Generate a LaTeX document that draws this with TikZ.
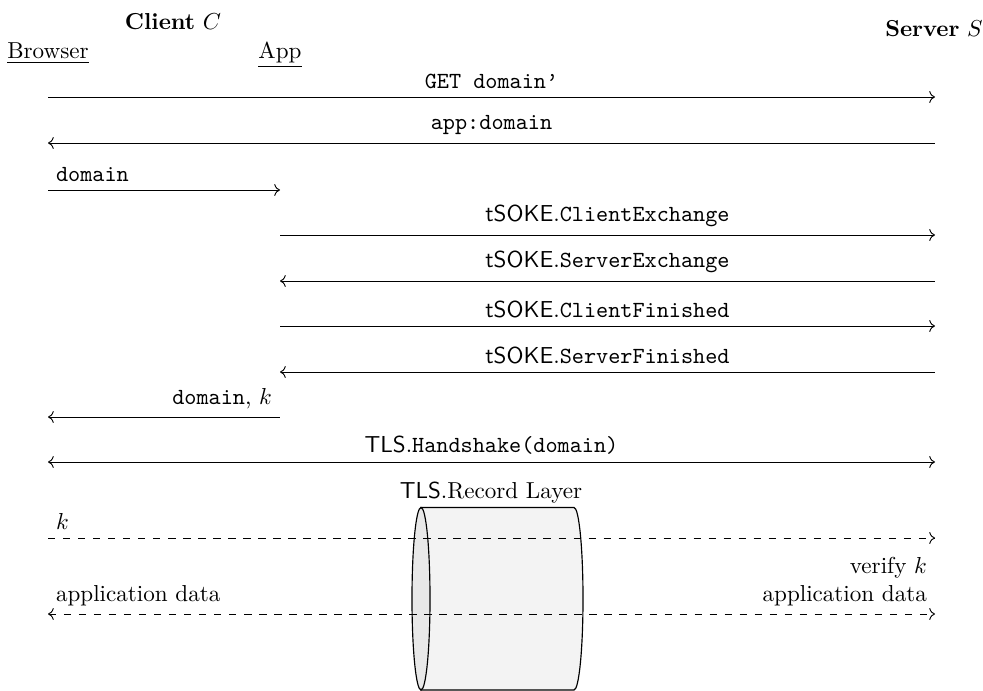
\documentclass[tikz,border=0pt]{standalone}
\usepackage{amsmath,amssymb}
\usepackage{xcolor}
\usepackage{tikz}
\usetikzlibrary{calc,arrows.meta}
\definecolor{ink}{HTML}{000000}
\definecolor{tubebody}{HTML}{F3F3F3}
\definecolor{tubeend}{HTML}{E8E8E8}
\tikzset{
  msg/.style={draw=ink, line width=0.4pt},
  sec/.style={draw=ink, line width=0.4pt, dash pattern=on 3.2pt off 3.3pt},
  lab/.style={text=ink, inner sep=3.3pt},
  head/.style={text=ink, anchor=base, inner sep=0pt},
  tube/.style={draw=ink, fill=tubebody, line width=0.5pt},
  tubecap/.style={draw=ink, fill=tubeend, line width=0.5pt},
}
\newcommand{\sok}{\textsf{tSOKE}}
\newcommand{\tls}{\textsf{TLS}}

\begin{document}
\begin{tikzpicture}[x=0.4329pt, y=-0.4329pt]
  \useasboundingbox (0,0) rectangle (983,691);
  \def\xb{48} \def\xa{280} \def\xs{935}
  % lifeline points for each message row
  \foreach \n/\y in {1/97,2/143,3/190,4/235,5/281,6/326,7/372,8/417,9/462,10/538,11/614} {
    \coordinate (b\n) at (\xb,\y);
    \coordinate (a\n) at (\xa,\y);
    \coordinate (s\n) at (\xs,\y);
  }
  % parties
  \node[head] (client) at (173,30) {\textbf{Client} $C$};
  \node[head] (browser) at (\xb,59) {\underline{Browser}};
  \node[head] (app) at (\xa,59) {\underline{App}};
  \node[head] (server) at (934,37) {\textbf{Server} $S$};
  % record layer tube
  \filldraw[tube] (421,507.5) -- (574,507.5) arc[start angle=90, end angle=-90, x radius=3.9pt, y radius=39.5pt] -- (421,690) -- cycle;
  \filldraw[tubecap] (421,598.75) ellipse[x radius=3.9pt, y radius=39.5pt];
  \node[lab, anchor=base] (record) at (491,498) {\tls.Record Layer};
  % messages
  \draw[msg, ->] (b1) -- (s1) node[lab, midway, above] (m1) {\texttt{GET domain\textquoteright}};
  \draw[msg, <-] (b2) -- (s2) node[lab, midway, above] (m2) {\texttt{app:domain}};
  \draw[msg, ->] (b3) -- (a3) node[lab, pos=0, above right] (m3) {\texttt{domain}};
  \draw[msg, ->] (a4) -- (s4) node[lab, midway, above] (m4) {\sok.\texttt{ClientExchange}};
  \draw[msg, <-] (a5) -- (s5) node[lab, midway, above] (m5) {\sok.\texttt{ServerExchange}};
  \draw[msg, ->] (a6) -- (s6) node[lab, midway, above] (m6) {\sok.\texttt{ClientFinished}};
  \draw[msg, <-] (a7) -- (s7) node[lab, midway, above] (m7) {\sok.\texttt{ServerFinished}};
  \draw[msg, <-] (b8) -- (a8) node[lab, pos=1, above left] (m8) {\texttt{domain}, $k$};
  \draw[msg, <->] (b9) -- (s9) node[lab, midway, above] (m9) {\tls.\texttt{Handshake(domain)}};
  \draw[sec, ->] (b10) -- (s10) node[lab, pos=0, above right] (m10) {$k$};
  \draw[sec, <->] (b11) -- (s11) node[lab, pos=0, above right] (m11) {application data}
    node[lab, pos=1, above left, align=right] (m12) {verify $k$\\application data};
\end{tikzpicture}
\end{document}
